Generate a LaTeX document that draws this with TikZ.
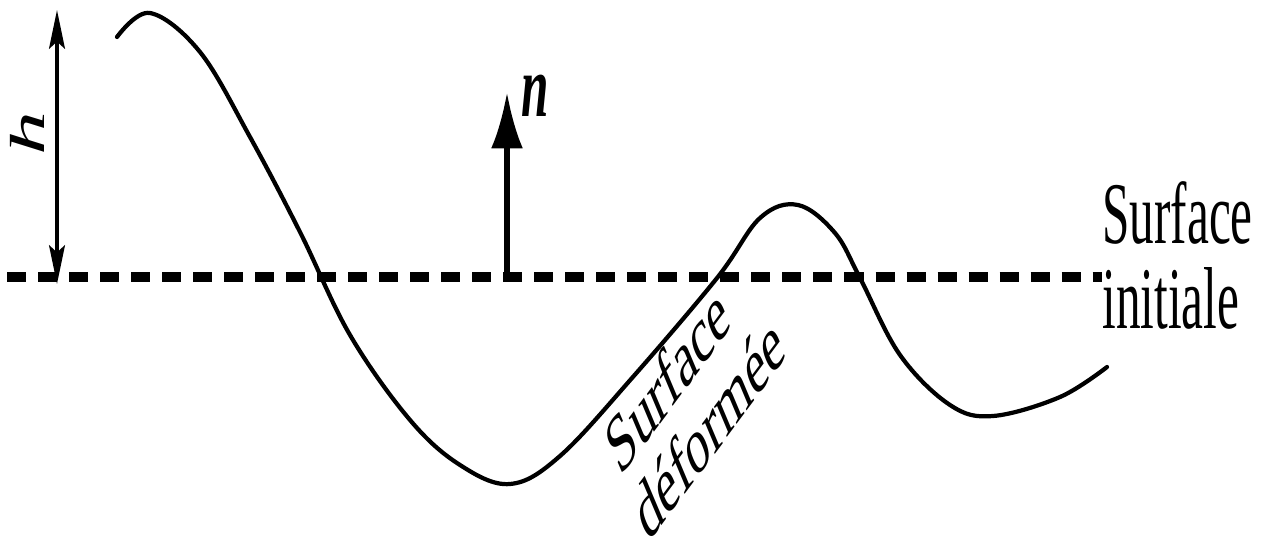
\documentclass[tikz,border=0pt]{standalone}
\usepackage{fontspec}
\setmainfont{Liberation Serif}
\usetikzlibrary{arrows.meta}
\tikzset{
  lbl/.style={font=\fontsize{25}{24}\selectfont,inner sep=0pt,xscale=0.56},
  level/.style={line width=2.6pt,dash pattern=on 0.19cm off 0.12cm},
  surf/.style={line width=1.2pt,line join=round,line cap=round}
}
\begin{document}
\begin{tikzpicture}[x=0.01cm,y=-0.01cm]
  \useasboundingbox (0,0) rectangle (1268,543);
  % surface initiale
  \coordinate (l0) at (7,277);
  \coordinate (l1) at (1102,277);
  \draw[level] (l0) -- (l1);
  % surface deformee
  \draw[surf] plot[smooth,tension=0.6] coordinates {
    (117,37) (150,13) (200,52) (250,137) (300,232) (350,335)
    (410,420) (460,465) (510,484) (560,456) (632,378) (717,278)
    (760,218) (798,205) (835,233) (860,278) (900,355) (950,405)
    (993,416) (1060,397) (1107,367)};
  % amplitude h
  \coordinate (htop) at (57,10);
  \coordinate (hbot) at (57,284);
  \draw[line width=1.1pt,{Stealth[length=11pt,width=4.5pt,inset=2pt]}-{Stealth[length=11pt,width=4.5pt,inset=2pt]}] (htop) -- (hbot);
  \node[lbl,rotate=90] (h) at (27,134) {\textit{h}};
  % normale n
  \coordinate (nbase) at (507,277);
  \coordinate (ntip) at (507,92);
  \draw[line width=1.6pt,-{Latex[length=16pt,width=9pt]}] (nbase) -- (ntip);
  \node[lbl,anchor=base] (n) at (535,117) {\textbf{\textit{n}}};
  % textes
  \node[lbl,anchor=base west,align=left] (init) at (1102,328) {Surface\\initiale};
  \node[lbl,font=\fontsize{23.5}{23.5}\selectfont,anchor=base west,align=left,rotate=37] (def) at (648,544) {Surface\\déformée};
\end{tikzpicture}
\end{document}
